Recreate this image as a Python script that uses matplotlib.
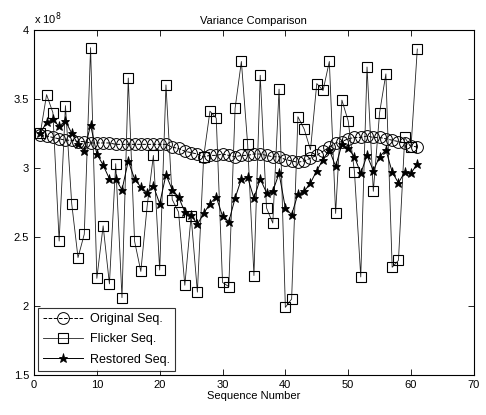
import matplotlib
matplotlib.use("Agg")
import matplotlib.pyplot as plt
import numpy as np
from matplotlib.ticker import FuncFormatter

plt.rcParams['font.family'] = ['Liberation Sans', 'DejaVu Sans']

seq = list(range(1, 62))

original = [3.24, 3.23, 3.22, 3.21, 3.20, 3.20, 3.19, 3.19, 3.18, 3.18,
            3.18, 3.18, 3.17, 3.17, 3.17, 3.17, 3.17, 3.17, 3.17, 3.17,
            3.17, 3.15, 3.14, 3.12, 3.11, 3.10, 3.08, 3.09, 3.09, 3.10,
            3.09, 3.08, 3.09, 3.09, 3.10, 3.10, 3.09, 3.08, 3.08, 3.06,
            3.05, 3.04, 3.05, 3.07, 3.09, 3.12, 3.15, 3.18, 3.19, 3.21,
            3.22, 3.22, 3.23, 3.22, 3.22, 3.21, 3.20, 3.19, 3.18, 3.16,
            3.15]

flicker = [3.25, 3.53, 3.40, 2.47, 3.45, 2.74, 2.35, 2.52, 3.87, 2.20,
           2.58, 2.16, 3.03, 2.06, 3.65, 2.47, 2.25, 2.72, 3.09, 2.26,
           3.60, 2.77, 2.68, 2.15, 2.65, 2.10, 3.08, 3.41, 3.36, 2.17,
           2.14, 3.43, 3.77, 3.17, 2.22, 3.67, 2.71, 2.60, 3.57, 1.99,
           2.05, 3.37, 3.28, 3.13, 3.61, 3.56, 3.77, 2.67, 3.49, 3.34,
           2.97, 2.21, 3.73, 2.83, 3.40, 3.68, 2.28, 2.33, 3.22, 3.15,
           3.86]

restored = [3.25, 3.33, 3.35, 3.30, 3.34, 3.25, 3.17, 3.12, 3.31, 3.10,
            3.02, 2.92, 2.92, 2.84, 3.05, 2.92, 2.86, 2.82, 2.87, 2.74,
            2.95, 2.84, 2.79, 2.68, 2.66, 2.59, 2.67, 2.74, 2.79, 2.65,
            2.61, 2.78, 2.92, 2.93, 2.78, 2.92, 2.82, 2.83, 2.96, 2.71,
            2.66, 2.81, 2.83, 2.89, 2.98, 3.06, 3.13, 3.01, 3.17, 3.14,
            3.08, 2.96, 3.09, 2.98, 3.08, 3.13, 2.97, 2.89, 2.97, 2.96,
            3.03]

scale = 1e8
x_ticks = [0, 10, 20, 30, 40, 50, 60, 70]
y_ticks = [1.5, 2, 2.5, 3, 3.5, 4]

fig = plt.figure(figsize=(4.86, 4.15), dpi=100)
ax = fig.add_axes([0.070, 0.0964, 0.905, 0.832])

ax.plot(seq, np.array(original) * scale, linestyle='--', color='black', lw=0.7,
        marker='o', markersize=8.5, markerfacecolor='none', markeredgewidth=0.7,
        label='Original Seq.')
ax.plot(seq, np.array(flicker) * scale, linestyle='-', color='#222222', lw=0.6,
        marker='s', markersize=7, markerfacecolor='none', markeredgewidth=0.8,
        markeredgecolor='black', label='Flicker Seq.')
ax.plot(seq, np.array(restored) * scale, linestyle='-', color='black', lw=0.7,
        marker='*', markersize=6.5, markeredgewidth=0.6,
        label='Restored Seq.')

ax.set_xlim(0, 70)
ax.set_ylim(1.5 * scale, 4 * scale)
ax.set_xticks(x_ticks)
ax.set_yticks([v * scale for v in y_ticks])
ax.yaxis.set_major_formatter(FuncFormatter(lambda v, p: '%g' % (v / scale)))
ax.tick_params(direction='in', top=True, right=True, labelsize=8, length=4, width=0.6)
for s in ax.spines.values():
    s.set_linewidth(0.8)

ax.text(0.0, 1.008, r'x 10$^8$', transform=ax.transAxes, fontsize=8,
        ha='left', va='bottom')
ax.set_title('Variance Comparison', fontsize=8, pad=4)
ax.set_xlabel('Sequence Number', fontsize=8, labelpad=1)

leg = ax.legend(loc='lower left', fontsize=9, frameon=True, fancybox=False,
                edgecolor='black', borderaxespad=0.3, handlelength=3.2,
                labelspacing=0.65, borderpad=0.45, handletextpad=0.5)
leg.get_frame().set_linewidth(0.8)

fig.savefig('out.png', dpi=100)
